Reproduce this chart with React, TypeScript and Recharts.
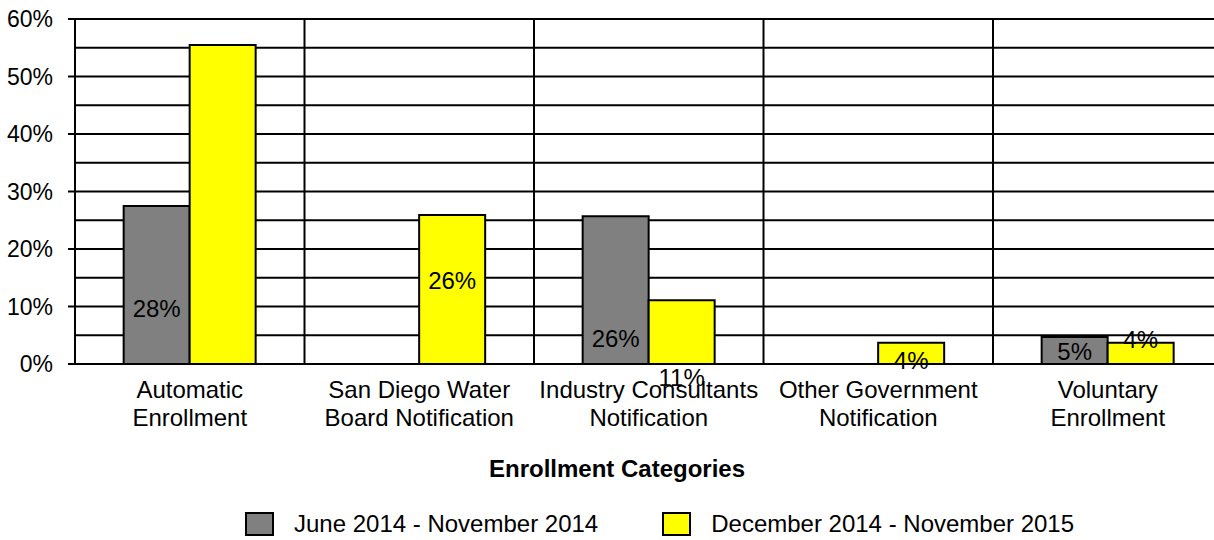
import React from 'react';
import { BarChart, Bar, XAxis, YAxis, CartesianGrid, LabelList } from 'recharts';

const categories = [
  'Automatic Enrollment',
  'San Diego Water Board Notification',
  'Industry Consultants Notification',
  'Other Government Notification',
  'Voluntary Enrollment'
];
const categoryLines: Record<string, string[]> = {
  'Automatic Enrollment': ['Automatic', 'Enrollment'],
  'San Diego Water Board Notification': ['San Diego Water', 'Board Notification'],
  'Industry Consultants Notification': ['Industry Consultants', 'Notification'],
  'Other Government Notification': ['Other Government', 'Notification'],
  'Voluntary Enrollment': ['Voluntary', 'Enrollment']
};
const period2014 = [27.5, null, 25.7, null, 4.7];
const period2015 = [55.5, 25.9, 11.1, 3.7, 3.7];
const yTicks = [0, 5, 10, 15, 20, 25, 30, 35, 40, 45, 50, 55, 60];
const seriesNames = ['June 2014 - November 2014', 'December 2014 - November 2015'];

// label placement, px from bar top to label centre (null = no label)
const labelShift2014 = [103, null, 123, null, 15];
const labelShift2015 = [null, 66, 78, 18, -3];

const FONT = '"Liberation Sans", Arial, sans-serif';
const GRAY = '#808080';
const YELLOW = '#FFFF00';

// no scrollbars, chart sits at the page corner
if (typeof document !== 'undefined') {
  document.documentElement.style.overflow = 'hidden';
  document.body.style.margin = '0';
  document.body.style.overflow = 'hidden';
}

const chartData = categories.map((name, i) => ({
  name,
  p2014: period2014[i],
  p2015: period2015[i]
}));

const YTick = (props: any) => {
  const { x, y, payload } = props;
  if (payload.value % 10 !== 0) return null;
  return (
    <g>
      <line x1={x - 7} x2={x} y1={y} y2={y} stroke="#000" strokeWidth={2} />
      <text x={x - 22} y={y} dy={8} textAnchor="end" fontSize={23} fontFamily={FONT} fill="#000">
        {payload.value}%
      </text>
    </g>
  );
};

const XTick = (props: any) => {
  const { x, y, payload } = props;
  const lines = categoryLines[payload.value] || [payload.value];
  return (
    <text x={x} y={y} textAnchor="middle" fontSize={24} fontFamily={FONT} fill="#000">
      {lines.map((l, i) => (
        <tspan key={i} x={x} dy={i === 0 ? 34 : 28}>{l}</tspan>
      ))}
    </text>
  );
};

const makeLabel = (values: (number | null)[], shifts: (number | null)[]) => (props: any) => {
  const { x, y, width, value } = props;
  const idx = categories.indexOf(value);
  const shift = shifts[idx];
  const v = values[idx];
  if (idx < 0 || v == null || shift == null) return null;
  return (
    <text
      x={x + width / 2}
      y={y + shift}
      dy={8}
      textAnchor="middle"
      fontSize={24}
      fontFamily={FONT}
      fill="#000"
    >
      {Math.round(v)}%
    </text>
  );
};

export default function App() {
  return (
    <div style={{ position: 'relative', width: 1214, height: 540, overflow: 'hidden', background: '#fff' }}>
      <BarChart
        width={1240}
        height={540}
        data={chartData}
        margin={{ top: 19, right: 17.5, left: 0, bottom: 116 }}
        barCategoryGap="21.2%"
        barGap={0}
        style={{ position: 'absolute', top: 0, left: 0 }}
      >
        <CartesianGrid
          stroke="#000"
          strokeWidth={2}
          verticalCoordinatesGenerator={({ offset }: any) =>
            categories.map((_, i) => offset.left + (i * offset.width) / categories.length).concat(offset.left + offset.width)
          }
        />
        <XAxis
          dataKey="name"
          interval={0}
          tickLine={false}
          tickSize={0}
          tickMargin={0}
          height={60}
          axisLine={{ stroke: '#000', strokeWidth: 2 }}
          tick={<XTick />}
        />
        <YAxis
          width={75}
          domain={[0, 60]}
          ticks={yTicks}
          interval={0}
          tickLine={false}
          tickSize={0}
          tickMargin={0}
          axisLine={{ stroke: '#000', strokeWidth: 2 }}
          tick={<YTick />}
        />
        <Bar dataKey="p2014" name={seriesNames[0]} fill={GRAY} stroke="#000" strokeWidth={2} isAnimationActive={false}>
          <LabelList dataKey={(d: any) => d.name} content={makeLabel(period2014, labelShift2014)} />
        </Bar>
        <Bar dataKey="p2015" name={seriesNames[1]} fill={YELLOW} stroke="#000" strokeWidth={2} isAnimationActive={false}>
          <LabelList dataKey={(d: any) => d.name} content={makeLabel(period2015, labelShift2015)} />
        </Bar>
      </BarChart>

      <div
        style={{
          position: 'absolute',
          top: 455,
          left: 0,
          width: 1234,
          textAlign: 'center',
          fontFamily: FONT,
          fontWeight: 'bold',
          fontSize: 24,
          lineHeight: '28px',
          color: '#000'
        }}
      >
        Enrollment Categories
      </div>

      <div
        style={{
          position: 'absolute',
          top: 510,
          left: 245,
          display: 'flex',
          alignItems: 'center',
          fontFamily: FONT,
          fontSize: 24,
          lineHeight: '28px',
          color: '#000'
        }}
      >
        {seriesNames.map((n, i) => (
          <div key={n} style={{ display: 'flex', alignItems: 'center', marginRight: i === 0 ? 64 : 0 }}>
            <div
              style={{
                width: 29,
                height: 24,
                boxSizing: 'border-box',
                border: '2px solid #000',
                background: i === 0 ? GRAY : YELLOW
              }}
            />
            <span style={{ marginLeft: 20 }}>{n}</span>
          </div>
        ))}
      </div>
    </div>
  );
}
